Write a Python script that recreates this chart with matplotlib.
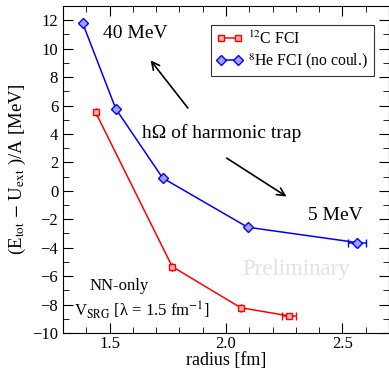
import numpy as np
import matplotlib
matplotlib.use("Agg")
import matplotlib.pyplot as plt
from matplotlib.ticker import MultipleLocator

plt.rcParams['font.family'] = ['Liberation Serif', 'DejaVu Serif']
plt.rcParams['mathtext.fontset'] = 'stix'

# 12C FCI
c12_r = [1.44, 1.769, 2.063, 2.271]
c12_e = [5.52, -5.33, -8.22, -8.80]
c12_rerr = [0.0, 0.0, 0.0, 0.03]

# 8He FCI (no coulomb)
he8_r = [1.385, 1.527, 1.728, 2.093, 2.563]
he8_e = [11.77, 5.76, 0.90, -2.56, -3.64]
he8_rerr = [0.0, 0.0, 0.0, 0.0, 0.04]

fig = plt.figure(figsize=(3.89, 3.69), dpi=100)
ax = fig.add_axes([63/389, 1-333/369, (389-63)/389, (333-6)/369])

red_kw = dict(color='red', marker='s', ms=5, mfc='#ffb0b0', mec='red', mew=1, lw=1.1)
blue_kw = dict(color='blue', marker='D', ms=5, mfc='#a0a0ff', mec='blue', mew=1, lw=1.1)

ax.errorbar(c12_r, c12_e, xerr=c12_rerr, capsize=3, **red_kw)
ax.errorbar(he8_r, he8_e, xerr=he8_rerr, capsize=3, **blue_kw)
# legend handles (line with marker at both ends)
ax.plot([], [], label=r'$^{12}$C FCI', **red_kw)
ax.plot([], [], label=r'$^{8}$He FCI (no coul.)', **blue_kw)

ax.set_xlim(1.3, 2.7)
ax.set_ylim(-10, 13)
ax.xaxis.set_major_locator(MultipleLocator(0.5))
ax.xaxis.set_minor_locator(MultipleLocator(0.1))
ax.yaxis.set_major_locator(MultipleLocator(2))
ax.yaxis.set_minor_locator(MultipleLocator(1))
ax.tick_params(which='both', direction='in', top=True, right=True, labelsize=12)
ax.tick_params(which='major', length=7)
ax.tick_params(which='minor', length=4)
ax.tick_params(axis='x', pad=2)
ax.set_xticks([1.5, 2.0, 2.5])
ax.set_xticklabels(['1.5', '2.0', '2.5'])

ax.set_xlabel('radius [fm]', fontsize=13, labelpad=0)
ax.set_ylabel(r'(E$_{\rm tot}$ $-$ U$_{\rm ext}$ )/A [MeV]', fontsize=13.5, labelpad=3)

leg = ax.legend(loc='upper right', bbox_to_anchor=(0.953, 0.942), fontsize=11.3,
                frameon=True, fancybox=False, edgecolor='black', numpoints=2,
                handlelength=1.7, borderpad=0.35, labelspacing=0.2,
                handletextpad=0.35, borderaxespad=0)
leg.get_frame().set_linewidth(0.8)

ax.text(1.609, 11.06, '40 MeV', fontsize=14, ha='center', va='center')
ax.text(2.47, -1.74, '5 MeV', fontsize=14, ha='center', va='center')
ax.text(1.982, 4.09, 'hΩ of harmonic trap', fontsize=14, ha='center', va='center')
ax.text(2.303, -5.5, 'Preliminary', fontsize=16.5, color='#e2e2e2', ha='center', va='center')
ax.text(1.54, -6.69, 'NN-only', fontsize=12, ha='center', va='center')
ax.text(1.638, -8.38, r'V$_{\rm SRG}$ [λ = 1.5 fm$^{-1}$]', fontsize=12, ha='center', va='center')

ax.annotate('', xy=(1.676, 9.18), xytext=(1.836, 5.83),
            arrowprops=dict(arrowstyle='->', color='black', lw=1.2, mutation_scale=14,
                            shrinkA=0, shrinkB=0))
ax.annotate('', xy=(2.26, -0.40), xytext=(2.003, 2.30),
            arrowprops=dict(arrowstyle='->', color='black', lw=1.2, mutation_scale=14,
                            shrinkA=0, shrinkB=0))

fig.savefig('out.png', dpi=100)
